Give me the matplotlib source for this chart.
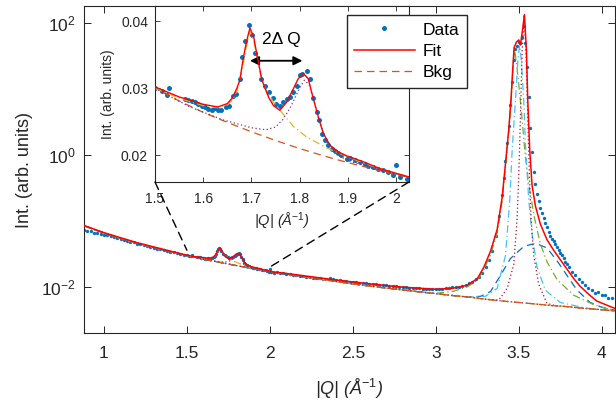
import numpy as np
import matplotlib.pyplot as plt
from matplotlib.patches import ConnectionPatch
from matplotlib.lines import Line2D
from matplotlib.ticker import FixedLocator, FormatStrFormatter, NullLocator

plt.rcParams['font.family'] = 'Liberation Sans'
plt.rcParams['mathtext.fontset'] = 'custom'
plt.rcParams['mathtext.rm'] = 'Liberation Sans'
plt.rcParams['mathtext.it'] = 'Liberation Sans:italic'

BLUE = '#0072BD'
ORANGE = '#D95319'
YELLOW = '#EDB120'
PURPLE = '#7E2F8E'
GREEN = '#77AC30'
LBLUE = '#4DBEEE'
MAROON = '#A2142F'
AXC = '#262626'

# ---- measured data (|Q| in 1/A, intensity arb. units) ----
q_lo = [0.88, 0.90, 0.92, 0.94, 0.96, 0.98, 1.00, 1.02, 1.04, 1.06, 1.08, 1.10, 1.12, 1.14,
        1.16, 1.18, 1.20, 1.22, 1.24, 1.26, 1.28, 1.30, 1.32, 1.34, 1.36, 1.38, 1.40, 1.42,
        1.44, 1.46, 1.48]
i_lo = [0.0740, 0.0712, 0.0693, 0.0668, 0.0652, 0.0638, 0.0618, 0.0603, 0.0582, 0.0568,
        0.0546, 0.0535, 0.0510, 0.0500, 0.0480, 0.0472, 0.0450, 0.0442, 0.0426, 0.0416,
        0.0401, 0.0392, 0.0379, 0.0372, 0.0358, 0.0353, 0.0340, 0.0335, 0.0322, 0.0318, 0.0306]

q_in = [1.500, 1.514, 1.524, 1.530, 1.562, 1.569, 1.576, 1.583, 1.590, 1.597, 1.604, 1.611,
        1.618, 1.625, 1.631, 1.638, 1.647, 1.653, 1.662, 1.668, 1.676, 1.681, 1.687, 1.696,
        1.702, 1.707, 1.720, 1.728, 1.737, 1.745, 1.752, 1.759, 1.766, 1.773, 1.780, 1.787,
        1.794, 1.801, 1.806, 1.815, 1.822, 1.828, 1.836, 1.841, 1.846, 1.853, 1.860, 1.867,
        1.874, 1.880, 1.887, 1.898, 1.905, 1.915, 1.925, 1.936, 1.943, 1.953, 1.963, 1.974,
        1.984, 1.994, 2.000, 2.008, 2.022]
i_in = [0.0301, 0.0296, 0.0290, 0.0300, 0.0284, 0.0282, 0.0281, 0.0279, 0.0277, 0.0274,
        0.0272, 0.0269, 0.0268, 0.0270, 0.0267, 0.0268, 0.0272, 0.0273, 0.0289, 0.0291,
        0.0314, 0.0347, 0.0371, 0.0395, 0.0380, 0.0352, 0.0314, 0.0304, 0.0295, 0.0285,
        0.0277, 0.0274, 0.0279, 0.0284, 0.0287, 0.0294, 0.0304, 0.0319, 0.0321, 0.0326,
        0.0314, 0.0286, 0.0264, 0.0252, 0.0231, 0.0222, 0.0215, 0.0210, 0.0206, 0.0203,
        0.0200, 0.0195, 0.0196, 0.0193, 0.0190, 0.0187, 0.0184, 0.0183, 0.0180, 0.0178,
        0.0175, 0.0170, 0.0185, 0.0168, 0.0165]

q_hi = [2.04, 2.06, 2.08, 2.10, 2.12, 2.14, 2.16, 2.18, 2.20, 2.22, 2.24, 2.26, 2.28, 2.30,
        2.32, 2.34, 2.36, 2.38, 2.40, 2.42, 2.44, 2.46, 2.48, 2.50, 2.52, 2.54, 2.56, 2.58,
        2.60, 2.62, 2.64, 2.66, 2.68, 2.70, 2.72, 2.74, 2.76, 2.78, 2.80, 2.82, 2.84, 2.86,
        2.88, 2.90, 2.92, 2.94, 2.96, 2.98, 3.00, 3.02, 3.04, 3.06, 3.08, 3.10, 3.12, 3.14,
        3.16, 3.18, 3.20, 3.22, 3.24]
i_hi = [0.0167, 0.0164, 0.0160, 0.0158, 0.0155, 0.0153, 0.0150, 0.0148, 0.0146, 0.0143,
        0.0141, 0.0138, 0.0137, 0.0135, 0.0133, 0.0134, 0.0138, 0.0131, 0.0127, 0.0126,
        0.0124, 0.0122, 0.0120, 0.0119, 0.0118, 0.0116, 0.0114, 0.0113, 0.0112, 0.0110,
        0.0109, 0.0107, 0.0106, 0.0106, 0.0104, 0.0103, 0.0102, 0.0101, 0.0100, 0.0099,
        0.0097, 0.0096, 0.0095, 0.0095, 0.0094, 0.0093, 0.0093, 0.0092, 0.0092, 0.0093,
        0.0094, 0.0095, 0.0097, 0.0098, 0.0099, 0.0101, 0.0104, 0.0108, 0.0113, 0.0120, 0.0130]

q_pk = [3.26, 3.28, 3.30, 3.32, 3.34, 3.36, 3.38, 3.40, 3.41, 3.42, 3.43, 3.44, 3.45, 3.46,
        3.47, 3.48, 3.49, 3.50, 3.51, 3.52, 3.53, 3.54, 3.55, 3.56, 3.57, 3.58, 3.59, 3.60,
        3.61, 3.62, 3.63, 3.64, 3.65, 3.66, 3.67, 3.68, 3.69, 3.70, 3.71, 3.72, 3.73, 3.74,
        3.75, 3.76, 3.77, 3.78, 3.79, 3.80, 3.82, 3.84, 3.86, 3.88, 3.90, 3.92, 3.94, 3.96,
        3.98, 4.00, 4.02, 4.04, 4.06]
i_pk = [0.0142, 0.0165, 0.0200, 0.0260, 0.0350, 0.060, 0.12, 0.25, 0.45, 0.80, 1.5, 2.8,
        5.8, 13, 28, 41, 45, 52, 50, 62, 90, 50, 22, 7.6, 2.6, 1.1, 0.55, 0.36, 0.26, 0.20,
        0.16, 0.13, 0.11, 0.092, 0.080, 0.069, 0.060, 0.054, 0.049, 0.045, 0.040, 0.036,
        0.033, 0.030, 0.027, 0.024, 0.022, 0.020, 0.017, 0.0150, 0.0132, 0.0118, 0.0105,
        0.0097, 0.0090, 0.0080, 0.0084, 0.0074, 0.0075, 0.0067, 0.0068]

# ---- background ----
bkg_q = [0.88, 0.95, 1.0, 1.1, 1.2, 1.3, 1.4, 1.5, 1.55, 1.6, 1.65, 1.7, 1.75, 1.8, 1.85,
         1.9, 1.95, 2.0, 2.1, 2.2, 2.3, 2.4, 2.5, 2.6, 2.7, 2.8, 2.9, 3.0, 3.1, 3.2, 3.3,
         3.4, 3.5, 3.6, 3.7, 3.8, 3.9, 4.0, 4.08]
bkg_i = [0.0846, 0.0728, 0.0657, 0.0546, 0.0461, 0.0395, 0.0343, 0.0300, 0.0281, 0.0264,
         0.0249, 0.0235, 0.0222, 0.0210, 0.0199, 0.0189, 0.0180, 0.0171, 0.0156, 0.0143,
         0.0131, 0.0121, 0.0111, 0.0103, 0.0096, 0.0090, 0.0084, 0.0079, 0.0074, 0.0070,
         0.0065, 0.0061, 0.0058, 0.0055, 0.0052, 0.0050, 0.0047, 0.0045, 0.0043]

# ---- total fit ----
fit_lo_q = [0.88, 1.0, 1.2, 1.4]
fit_lo_i = [0.0855, 0.0665, 0.0468, 0.0349]
fit_in_q = [1.50, 1.55, 1.60, 1.63, 1.65, 1.66, 1.67, 1.676, 1.683, 1.69, 1.697, 1.705,
            1.711, 1.722, 1.736, 1.746, 1.759, 1.773, 1.787, 1.797, 1.808, 1.818, 1.828,
            1.839, 1.849, 1.863, 1.88, 1.898, 1.933, 1.967, 2.0, 2.03]
fit_in_i = [0.0302, 0.0287, 0.0276, 0.0272, 0.0277, 0.0285, 0.0300, 0.0312, 0.0344, 0.0370,
            0.0390, 0.0376, 0.0352, 0.0312, 0.0286, 0.0274, 0.0267, 0.0279, 0.0299, 0.0314,
            0.0322, 0.0314, 0.0286, 0.0257, 0.0233, 0.0215, 0.0205, 0.0199, 0.0190, 0.0180,
            0.0173, 0.0167]
fit_hi_q = [2.1, 2.2, 2.4, 2.6, 2.8, 3.0, 3.1, 3.19, 3.25, 3.29, 3.33, 3.37, 3.40, 3.42,
            3.44, 3.454, 3.464, 3.472, 3.486, 3.50, 3.51, 3.522, 3.534, 3.546, 3.554, 3.566,
            3.58, 3.60, 3.63, 3.67, 3.71, 3.77, 3.83, 3.87, 3.93, 3.97, 4.08]
fit_hi_i = [0.0160, 0.0148, 0.0127, 0.0111, 0.0099, 0.0092, 0.0095, 0.0106, 0.0133, 0.020,
            0.035, 0.075, 0.23, 0.75, 2.5, 7.5, 21, 43, 52, 56, 47, 77, 135, 39, 7.0, 1.2,
            0.35, 0.17, 0.09, 0.052, 0.036, 0.022, 0.0135, 0.0102, 0.0074, 0.0061, 0.0047]

# ---- single components (bkg + one peak) ----
yel_q = [1.50, 1.55, 1.60, 1.63, 1.65, 1.66, 1.67, 1.68, 1.69, 1.697, 1.705, 1.712, 1.72,
         1.73, 1.745, 1.763, 1.787, 1.815, 1.856, 1.905, 1.95, 2.00, 2.03]
yel_i = [0.0300, 0.0285, 0.0274, 0.0271, 0.0275, 0.0282, 0.0296, 0.0325, 0.0363, 0.0385,
         0.0370, 0.0345, 0.0316, 0.0298, 0.0280, 0.0264, 0.0243, 0.0227, 0.0211, 0.0196,
         0.0184, 0.0173, 0.0167]
pur_q = [1.50, 1.57, 1.64, 1.70, 1.73, 1.75, 1.765, 1.78, 1.79, 1.80, 1.81, 1.82, 1.83,
         1.84, 1.85, 1.86, 1.88, 1.90, 1.95, 2.00, 2.03]
pur_i = [0.0300, 0.0273, 0.0253, 0.0241, 0.0238, 0.0242, 0.0253, 0.0270, 0.0285, 0.0300,
         0.0312, 0.0305, 0.0280, 0.0254, 0.0232, 0.0216, 0.0200, 0.0192, 0.0181, 0.0172, 0.0167]
grn_q = [3.0, 3.1, 3.19, 3.25, 3.29, 3.33, 3.37, 3.40, 3.42, 3.44, 3.454, 3.464, 3.474,
         3.486, 3.50, 3.52, 3.537, 3.56, 3.595, 3.63, 3.67, 3.73, 3.83, 3.95, 4.08]
grn_i = [0.0080, 0.0085, 0.0100, 0.0126, 0.0183, 0.031, 0.066, 0.20, 0.65, 2.2, 6.8, 19,
         42, 25, 12, 3.5, 1.1, 0.36, 0.11, 0.045, 0.024, 0.013, 0.0075, 0.0054, 0.0043]
lbl_q = [3.2, 3.3, 3.37, 3.42, 3.446, 3.46, 3.48, 3.495, 3.505, 3.515, 3.53, 3.54, 3.56,
         3.58, 3.61, 3.66, 3.75, 3.9]
lbl_i = [0.0070, 0.0072, 0.0095, 0.030, 0.21, 1.17, 6.8, 28, 46, 28, 6.8, 1.5, 0.21,
         0.064, 0.020, 0.0089, 0.0058, 0.0048]
mar_q = [3.38, 3.43, 3.47, 3.49, 3.50, 3.51, 3.52, 3.532, 3.544, 3.554, 3.564, 3.574,
         3.59, 3.62, 3.67, 3.72]
mar_i = [0.0063, 0.0095, 0.022, 0.11, 0.5, 3.8, 35, 135, 35, 3.8, 0.5, 0.11, 0.030,
         0.011, 0.0056, 0.0052]
bld_q = [3.2, 3.27, 3.33, 3.39, 3.45, 3.53, 3.60, 3.67, 3.73, 3.79, 3.85, 3.93, 4.0, 4.08]
bld_i = [0.0070, 0.0072, 0.0085, 0.015, 0.027, 0.041, 0.046, 0.039, 0.025, 0.015, 0.0090,
         0.0058, 0.0049, 0.0044]


def with_bkg(q, v):
    # outside a component's peak window it sits on the background
    q, v = np.asarray(q), np.asarray(v)
    bq, bi = np.asarray(bkg_q), np.asarray(bkg_i)
    lo, hi = bq < q[0], bq > q[-1]
    return np.r_[bq[lo], q, bq[hi]], np.r_[bi[lo], v, bi[hi]]


q_all = np.r_[q_lo, q_in, q_hi, q_pk]
i_all = np.r_[i_lo, i_in, i_hi, i_pk]
fit_q = np.r_[fit_lo_q, fit_in_q, fit_hi_q]
fit_i = np.r_[fit_lo_i, fit_in_i, fit_hi_i]

DASH = (6, 4)
DASHDOT = (6, 2.5, 1, 2.5)
DOT = (1, 2)

fig = plt.figure(figsize=(6.16, 4.07), dpi=100)
ax = fig.add_axes([0.1364, 0.1818, 0.862, 0.803])

ax.plot(q_all, i_all, 'o', color=BLUE, ms=2.4, mec='none', zorder=2)
comps = [(bld_q, bld_i, BLUE, DASH), (grn_q, grn_i, GREEN, DASHDOT),
         (lbl_q, lbl_i, LBLUE, DASHDOT), (mar_q, mar_i, MAROON, DOT),
         (yel_q, yel_i, YELLOW, DASHDOT), (pur_q, pur_i, PURPLE, DOT)]
for cq, ci, col, ds in comps:
    xq, yi = with_bkg(cq, ci)
    ax.plot(xq, yi, color=col, lw=0.9, dashes=ds, zorder=3)
ax.plot(bkg_q, bkg_i, color=ORANGE, lw=0.9, dashes=DASH, zorder=3)
ax.plot(fit_q, fit_i, color='red', lw=1.1, zorder=4)

ax.set_yscale('log')
ax.set_xlim(0.88, 4.08)
ax.set_ylim(10 ** -2.70, 10 ** 2.26)
ax.yaxis.set_major_locator(FixedLocator([1e-2, 1e0, 1e2]))
ax.yaxis.set_minor_locator(NullLocator())
ax.xaxis.set_major_locator(FixedLocator([1, 1.5, 2, 2.5, 3, 3.5, 4]))
ax.xaxis.set_major_formatter(FormatStrFormatter('%g'))
ax.tick_params(which='both', direction='in', length=4.8, width=0.7, colors=AXC,
               labelsize=12.5, top=True, right=True)
ax.tick_params(axis='x', pad=9)
ax.tick_params(axis='y', pad=6)
for s in ax.spines.values():
    s.set_linewidth(0.8)
    s.set_color(AXC)
ax.set_ylabel('Int. (arb. units)', fontsize=13, color=AXC, labelpad=6)
ax.set_xlabel('|Q| (Å$^{\\mathit{-1}}$)', fontsize=13, style='italic', color=AXC, labelpad=12)

# ---- inset ----
ax_in = fig.add_axes([0.2516, 0.5528, 0.4123, 0.4329])
ax_in.plot(q_in, i_in, 'o', color=BLUE, ms=3.6, mec='none', zorder=2)
ax_in.plot(bkg_q, bkg_i, color=ORANGE, lw=0.9, dashes=DASH, zorder=3)
ax_in.plot(yel_q, yel_i, color=YELLOW, lw=0.9, dashes=DASHDOT, zorder=3)
ax_in.plot(pur_q, pur_i, color=PURPLE, lw=0.9, dashes=DOT, zorder=3)
ax_in.plot(fit_in_q, fit_in_i, color='red', lw=1.0, zorder=4)
ax_in.set_xlim(1.5, 2.027)
ax_in.set_ylim(0.0160, 0.0423)
ax_in.xaxis.set_major_locator(FixedLocator([1.5, 1.6, 1.7, 1.8, 1.9, 2.0]))
ax_in.xaxis.set_major_formatter(FormatStrFormatter('%g'))
ax_in.yaxis.set_major_locator(FixedLocator([0.02, 0.03, 0.04]))
ax_in.yaxis.set_major_formatter(FormatStrFormatter('%.2f'))
ax_in.tick_params(direction='in', length=3.5, width=0.6, colors=AXC, labelsize=10,
                  top=True, right=True)
ax_in.tick_params(axis='x', pad=7)
ax_in.tick_params(axis='y', pad=5)
for s in ax_in.spines.values():
    s.set_linewidth(0.8)
    s.set_color(AXC)
ax_in.set_ylabel('Int. (arb. units)', fontsize=10, color=AXC, labelpad=4)
ax_in.set_xlabel('|Q| (Å$^{\\mathit{-1}}$)', fontsize=10.5, style='italic', color=AXC, labelpad=4)
ax_in.annotate('', xy=(1.697, 0.0341), xytext=(1.806, 0.0341),
               arrowprops=dict(arrowstyle='<|-|>', color='k', lw=1.3, mutation_scale=13,
                               shrinkA=0, shrinkB=0))
ax_in.text(1.762, 0.0372, '2Δ Q', ha='center', va='center', fontsize=12.5)

# zoom connectors
for cornerA, ptB in [((0, 0), (1.5, 0.036)), ((1, 0), (2.0, 0.020))]:
    con = ConnectionPatch(xyA=cornerA, coordsA=ax_in.transAxes, xyB=ptB,
                          coordsB=ax.transData, color='k', lw=1.0, linestyle=(0, (6, 4)))
    fig.add_artist(con)

handles = [Line2D([], [], ls='none', marker='o', ms=3.6, mec='none', color=BLUE),
           Line2D([], [], color='red', lw=1.1),
           Line2D([], [], color=ORANGE, lw=0.9, dashes=DASH)]
fig.legend(handles, ['Data', 'Fit', 'Bkg'], loc='upper left', bbox_to_anchor=(0.563, 0.963),
           borderaxespad=0, fontsize=12.5, handlelength=3.5, handletextpad=0.45,
           labelspacing=0.36, borderpad=0.42, fancybox=False, framealpha=1,
           edgecolor=AXC)

fig.savefig('out.png', dpi=100)
